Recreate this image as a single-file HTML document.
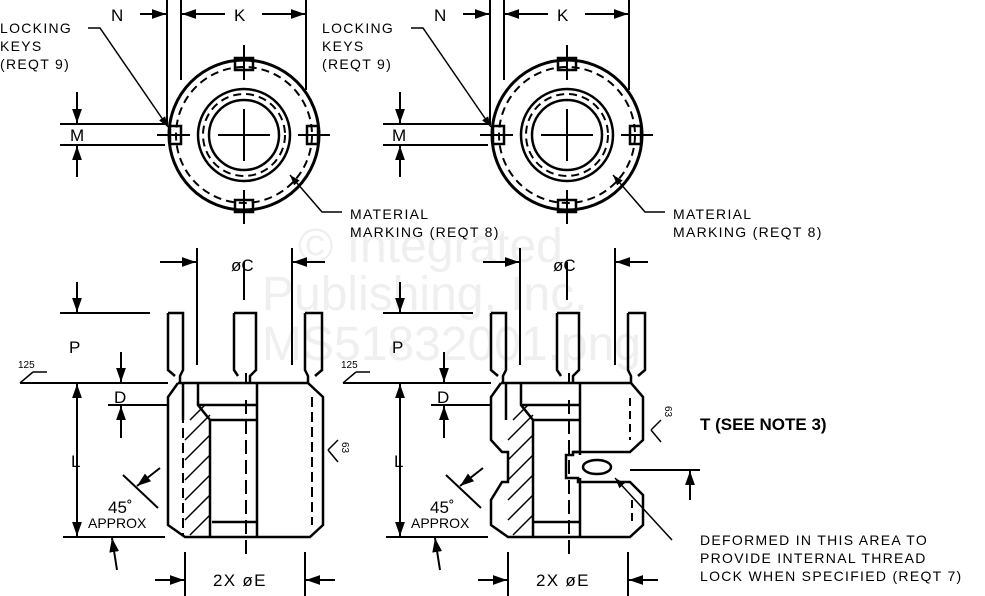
<!DOCTYPE html>
<html><head><meta charset="utf-8"><style>
html,body{margin:0;padding:0;background:#fff}
svg{display:block}
.t text,.s text{font-family:"Liberation Sans",sans-serif;fill:#000}
.t{font-size:14px}
.ls{letter-spacing:1.3px}
.big{font-size:17px}
.w text{font-family:"Liberation Sans",sans-serif;fill:#efefef;font-size:48px}
</style></head><body>
<svg width="985" height="596" viewBox="0 0 985 596" xmlns="http://www.w3.org/2000/svg">
<defs>
<marker id="a" viewBox="0 0 10 10" refX="10" refY="5" markerWidth="7" markerHeight="7" orient="auto-start-reverse"><path d="M0,1.5 L10,5 L0,8.5z" fill="#000"/></marker>
<g id="top" fill="none" stroke="#000">
 <circle cx="244" cy="135" r="75" stroke-width="3"/>
 <circle cx="244" cy="135" r="68" stroke-width="2" stroke-dasharray="8,5"/>
 <circle cx="244" cy="135" r="46" stroke-width="2.5"/>
 <circle cx="244" cy="135" r="41" stroke-width="2" stroke-dasharray="8,5"/>
 <circle cx="244" cy="135" r="35" stroke-width="2.5"/>
 <path d="M218,135H270M244,109V161" stroke-width="2"/>
 <path d="M244,45V80M244,190V224M157,135H190M298,135H330" stroke-width="2"/>
 <rect x="235" y="58" width="18" height="12" stroke-width="2.5"/>
 <rect x="235" y="200" width="18" height="12" stroke-width="2.5"/>
 <rect x="170" y="126" width="11" height="18" stroke-width="2.5"/>
 <rect x="307" y="126" width="11" height="18" stroke-width="2.5"/>
 <path d="M167,0V125M181,0V80M306,0V90" stroke-width="2"/>
 <path d="M140,14H166" stroke-width="2" marker-end="url(#a)"/>
 <path d="M225,14H182" stroke-width="2" marker-end="url(#a)"/>
 <path d="M262,14H305" stroke-width="2" marker-end="url(#a)"/>
 <path d="M60,124H165M60,145H165" stroke-width="2"/>
 <path d="M77,92V123" stroke-width="2" marker-end="url(#a)"/>
 <path d="M77,177V146" stroke-width="2" marker-end="url(#a)"/>
 <path d="M88,28H100L168,127" stroke-width="1.5" marker-end="url(#a)"/>
 <path d="M342,212H322L290,175" stroke-width="1.5" marker-end="url(#a)"/>
</g>
<g id="bot" fill="none" stroke="#000" stroke-width="2.5">
 <path d="M197,248V365M292,248V365M244,262V300" stroke-width="2"/>
 <path d="M160,262H196" stroke-width="2" marker-end="url(#a)"/>
 <path d="M325,262H293" stroke-width="2" marker-end="url(#a)"/>
 <path d="M60,313H150" stroke-width="2"/>
 <path d="M77,282V312" stroke-width="2" marker-end="url(#a)"/>
 <path d="M20,383H168" stroke-width="2"/>
 <path d="M20,383L33,372 M33,372H47" stroke-width="1.5"/>
 <path d="M77,384V536" stroke-width="2" marker-start="url(#a)" marker-end="url(#a)"/>
 <path d="M63,537H165" stroke-width="2"/>
 <path d="M108,405H168" stroke-width="2"/>
 <path d="M121,352V382" stroke-width="2" marker-end="url(#a)"/>
 <path d="M121,438V406" stroke-width="2" marker-end="url(#a)"/>
 <path d="M117,570L112,538" stroke-width="2" marker-end="url(#a)"/>
 <path d="M123,475L158,508M160,468L137,486" stroke-width="2" marker-end="url(#a)"/>
 <path d="M185,552V596M305,552V596" stroke-width="2"/>
 <path d="M155,580H184" stroke-width="2" marker-end="url(#a)"/>
 <path d="M335,580H306" stroke-width="2" marker-end="url(#a)"/>
 <path d="M168,313H183V370L180,376V383M168,313V370L175,376M234,313H256V370L250,376V383M234,313V370L238,376M305,313H322V370L315,376M305,313V370L308,376V383"/>
 <path d="M246,373V383M246,400V555" stroke-width="2" stroke-dasharray="14,6"/>
</g>
</defs>

<g class="w">
<text x="298" y="262">© Integrated</text>
<text x="262" y="310">Publishing, Inc.</text>
<text x="262" y="360">MS51832001.png</text>
</g>

<use href="#top"/>
<use href="#top" transform="translate(323,0)"/>
<use href="#bot"/>
<use href="#bot" transform="translate(323,0)"/>

<g fill="none" stroke="#000" stroke-width="2.5">
 <path d="M178,383H308L323,397V525L310,537H185L168,525V397L178,383"/>
 <path d="M183,383V420M198,383V405L210,420V537M198,405H257M210,420H257M257,383V537M257,522H212"/>
 <path d="M183,383V535" stroke-dasharray="10,5" stroke-width="2"/>
 <path d="M312,397V525" stroke-dasharray="10,5" stroke-width="2"/>
 <path d="M190,420L205,405M185,440L210,415M185,460L210,435M185,480L210,455M185,500L210,475M185,520L210,495M190,535L210,515" stroke-width="1.5"/>
 <path d="M328,450L338,440M328,450L338,462" stroke-width="1.5"/>
</g>
<g fill="none" stroke="#000" stroke-width="2.5">
 <path d="M501,383H631L643,397V440L630,452H573V455H566V478H578V482H630L643,495V525L630,537H508L491,525V500L502,482H508V452H502L491,440V397L501,383"/>
 <path d="M506,383V420M521,383V405L533,420V537M521,405H580M533,420H580M580,383V455M580,478V537M580,398V440M573,452H580M533,522H580"/>
 <path d="M630,398V440M632,500V525" stroke-dasharray="8,5" stroke-width="2"/>
 <ellipse cx="597" cy="467" rx="14" ry="7"/>
 <path d="M513,420L528,405M508,440L533,415M508,460L533,435M508,480L533,455M508,500L533,475M508,520L533,495M513,535L533,515" stroke-width="1.5"/>
 <path d="M630,470H700" stroke-width="2"/>
 <path d="M690,500V471" stroke-width="2" marker-end="url(#a)"/>
 <path d="M672,540L615,478" stroke-width="1.5" marker-end="url(#a)"/>
 <path d="M651,430L661,420M651,430L661,442" stroke-width="1.5"/>
</g>

<g class="t">
<text class="big" x="111" y="21">N</text><text class="big" x="234" y="21">K</text>
<text class="big" x="434" y="21">N</text><text class="big" x="557" y="21">K</text>
<text class="ls" x="0" y="33">LOCKING</text><text class="ls" x="0" y="51">KEYS</text><text class="ls" x="0" y="69">(REQT  9)</text>
<text class="ls" x="322" y="33">LOCKING</text><text class="ls" x="322" y="51">KEYS</text><text class="ls" x="322" y="69">(REQT  9)</text>
<text class="big" x="70" y="141">M</text><text class="big" x="392" y="141">M</text>
<text class="ls" x="350" y="219">MATERIAL</text><text class="ls" x="350" y="237">MARKING  (REQT  8)</text>
<text class="ls" x="673" y="219">MATERIAL</text><text class="ls" x="673" y="237">MARKING  (REQT  8)</text>
<text class="big" x="231" y="271">øC</text><text class="big" x="553" y="271">øC</text>
<text class="big" x="69" y="353">P</text><text class="big" x="392" y="353">P</text>
<text class="big" x="114" y="403">D</text><text class="big" x="437" y="403">D</text>
<text class="big" x="71" y="467">L</text><text class="big" x="394" y="467">L</text>
<text class="big" x="108" y="513">45˚</text><text x="88" y="528">APPROX</text>
<text class="big" x="430" y="513">45˚</text><text x="411" y="528">APPROX</text>
<text class="ls big" x="213" y="586">2X  øE</text><text class="ls big" x="536" y="586">2X  øE</text>
<text x="700" y="430" font-weight="bold" class="big">T (SEE NOTE 3)</text>
<text class="ls" x="700" y="545">DEFORMED  IN  THIS  AREA  TO</text>
<text class="ls" x="700" y="563">PROVIDE  INTERNAL  THREAD</text>
<text class="ls" x="700" y="581">LOCK  WHEN  SPECIFIED  (REQT  7)</text>
</g>
<g class="s" font-size="10">
<text x="18" y="368">125</text><text x="341" y="368">125</text>
<text x="342" y="442" transform="rotate(90 342 442)">63</text>
<text x="665" y="406" transform="rotate(90 665 406)">63</text>
</g>
</svg>
</body></html>
